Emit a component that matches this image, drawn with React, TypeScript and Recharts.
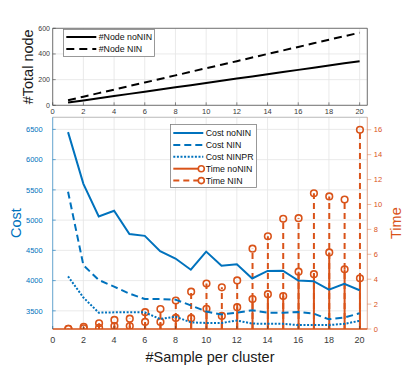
import React from "react";
import {
  LineChart,
  ComposedChart,
  Line,
  Bar,
  XAxis,
  YAxis,
  CartesianGrid,
  ReferenceLine,
  Legend,
} from "recharts";

const samples = [1, 2, 3, 4, 5, 6, 7, 8, 9, 10, 11, 12, 13, 14, 15, 16, 17, 18, 19, 20];

// top panel: total number of nodes
const nodeNoNIN = [21, 38, 55, 72, 89, 106, 123, 140, 157, 174, 191, 208, 225, 242, 259, 276, 293, 310, 327, 344];
const nodeNIN = [39, 67, 95, 122, 150, 178, 205, 233, 261, 289, 316, 344, 372, 400, 427, 455, 483, 511, 538, 566];

// bottom panel: cost (left axis)
const costNoNIN = [6455, 5600, 5060, 5155, 4770, 4740, 4485, 4365, 4180, 4480, 4245, 4270, 4035, 4160, 4165, 4000, 3990, 3850, 3945, 3840];
const costNIN = [5470, 4255, 4010, 3900, 3785, 3695, 3695, 3685, 3590, 3490, 3440, 3470, 3510, 3470, 3470, 3480, 3455, 3360, 3390, 3460];
const costNINPR = [4070, 3720, 3470, 3475, 3475, 3475, 3365, 3405, 3310, 3300, 3300, 3340, 3290, 3285, 3285, 3265, 3265, 3265, 3285, 3335];

// bottom panel: time (right axis)
const timeNoNIN = [0.02, 0.06, 0.1, 0.24, 0.24, 0.57, 0.57, 0.89, 0.87, 1.62, 1.05, 1.75, 2.4, 2.8, 2.65, 4.6, 4.4, 6.15, 4.8, 4.07];
const timeNIN = [0.02, 0.18, 0.46, 0.73, 0.83, 1.35, 1.6, 2.29, 3.0, 3.65, 3.35, 3.9, 6.45, 7.45, 8.85, 8.9, 10.9, 10.65, 10.4, 16.0];

const xTicks = [0, 2, 4, 6, 8, 10, 12, 14, 16, 18, 20];
const nodeTicks = [0, 200, 400, 600];
const costTicks = [3500, 4000, 4500, 5000, 5500, 6000, 6500];
const timeTicks = [0, 2, 4, 6, 8, 10, 12, 14, 16];

const BLUE = "#0072BD";
const ORANGE = "#D95319";
const AX = "#404040";
const GRID = "#e4e4e4";
const FONT = '"Liberation Sans", Arial, Helvetica, sans-serif';

const topData = samples.map((s, i) => ({ s, nodeNoNIN: nodeNoNIN[i], nodeNIN: nodeNIN[i] }));
const bottomData = samples.map((s, i) => ({
  s,
  costNoNIN: costNoNIN[i],
  costNIN: costNIN[i],
  costNINPR: costNINPR[i],
  timeNoNIN: timeNoNIN[i],
  timeNIN: timeNIN[i],
}));

type LegendItem = { key: string; color: string; width: number; dash?: string; marker?: boolean };

const topLegendItems: LegendItem[] = [
  { key: "nodeNoNIN", color: "#000", width: 2 },
  { key: "nodeNIN", color: "#000", width: 2, dash: "8 5" },
];

const bottomLegendItems: LegendItem[] = [
  { key: "costNoNIN", color: BLUE, width: 2 },
  { key: "costNIN", color: BLUE, width: 2, dash: "7 4" },
  { key: "costNINPR", color: BLUE, width: 2, dash: "2 1.6" },
  { key: "timeNoNIN", color: ORANGE, width: 2, marker: true },
  { key: "timeNIN", color: ORANGE, width: 2, dash: "6 4", marker: true },
];

function boxLegend(items: LegendItem[], w: number, h: number, first: number, step: number) {
  return (props: any) => {
    const payload: any[] = props.payload || [];
    return (
      <svg width={w} height={h} style={{ display: "block" }}>
        <rect x={0.5} y={0.5} width={w - 1} height={h - 1} fill="#fff" stroke="#7f7f7f" strokeWidth={0.8} />
        {items.map((it, i) => {
          const y = first + i * step;
          const entry = payload.find((p) => p.dataKey === it.key);
          return (
            <g key={it.key}>
              <line x1={3.3} x2={it.marker ? 29 : 33.3} y1={y} y2={y} stroke={it.color} strokeWidth={it.width} strokeDasharray={it.dash} />
              {it.marker && <circle cx={31.3} cy={y} r={3} fill="none" stroke={it.color} strokeWidth={1.6} />}
              <text x={35.7} y={y} dy="0.35em" fontSize={8.8} fill="#111" fontFamily={FONT}>
                {entry ? entry.value : it.key}
              </text>
            </g>
          );
        })}
      </svg>
    );
  };
}

function stem(dash?: string) {
  return (p: any) => {
    if (p.height == null || p.y == null) return <g />;
    const cx = p.x + p.width / 2;
    return (
      <g>
        <line x1={cx} x2={cx} y1={p.y + p.height} y2={p.y} stroke={ORANGE} strokeWidth={2} strokeDasharray={dash} />
        <circle cx={cx} cy={p.y} r={3.3} fill="none" stroke={ORANGE} strokeWidth={1.6} />
      </g>
    );
  };
}

export default function App() {
  return (
    <div style={{ position: "absolute", left: 0, top: 0, width: 407, height: 370, background: "#fff", fontFamily: FONT }}>
      <div style={{ position: "absolute", left: 0, top: 110 }}>
        <ComposedChart
          width={407}
          height={260}
          data={bottomData}
          margin={{ top: 7.3, right: 0, bottom: 0, left: 0 }}
          barSize={4}
          barGap={-4}
        >
          <CartesianGrid yAxisId="left" stroke={GRID} strokeWidth={0.8} />
          <XAxis
            dataKey="s"
            type="number"
            domain={[0, 20.5]}
            ticks={xTicks}
            height={41}
            axisLine={false}
            tickSize={-3}
            tickMargin={10.8}
            tickLine={{ stroke: AX, strokeWidth: 0.6 }}
            tick={{ fill: "#3a3a3a", fontSize: 9, fontFamily: FONT }}
            label={{ value: "#Sample per cluster", position: "center", dy: 7, fontSize: 14.5, fill: "#1a1a1a", fontFamily: FONT }}
          />
          <YAxis
            yAxisId="left"
            type="number"
            domain={[3200, 6700]}
            ticks={costTicks}
            width={52.7}
            allowDataOverflow
            axisLine={{ stroke: BLUE, strokeWidth: 0.8, strokeOpacity: 0.7 }}
            tickSize={-3}
            tickMargin={13}
            tickLine={{ stroke: BLUE, strokeWidth: 0.6 }}
            tick={{ fill: BLUE, fontSize: 7.5, fontFamily: FONT }}
            label={{ value: "Cost", angle: -90, position: "center", dx: -10.3, fontSize: 14.5, fill: BLUE, fontFamily: FONT }}
          />
          <YAxis
            yAxisId="right"
            orientation="right"
            type="number"
            domain={[0, 17]}
            ticks={timeTicks}
            width={39.7}
            allowDataOverflow
            axisLine={{ stroke: ORANGE, strokeWidth: 0.8, strokeOpacity: 0.55 }}
            tickSize={4}
            tickMargin={2.5}
            tickLine={{ stroke: ORANGE, strokeWidth: 0.6, strokeOpacity: 0.7 }}
            tick={{ fill: ORANGE, fontSize: 7.5, fontFamily: FONT }}
            label={{ value: "Time", angle: -90, position: "center", dx: 8.6, fontSize: 14.5, fill: ORANGE, fontFamily: FONT }}
          />
          <ReferenceLine yAxisId="left" y={6700} stroke="#b5b5b5" strokeWidth={0.8} />
          <Line yAxisId="left" dataKey="costNoNIN" name="Cost noNIN" stroke={BLUE} strokeWidth={2} dot={false} activeDot={false} isAnimationActive={false} />
          <Line yAxisId="left" dataKey="costNIN" name="Cost NIN" stroke={BLUE} strokeWidth={2} strokeDasharray="7 4" dot={false} activeDot={false} isAnimationActive={false} />
          <Line yAxisId="left" dataKey="costNINPR" name="Cost NINPR" stroke={BLUE} strokeWidth={2} strokeDasharray="2 1.6" dot={false} activeDot={false} isAnimationActive={false} />
          <Bar yAxisId="right" dataKey="timeNIN" name="Time NIN" fill={ORANGE} shape={stem("6 4")} isAnimationActive={false} />
          <Bar yAxisId="right" dataKey="timeNoNIN" name="Time noNIN" fill={ORANGE} shape={stem()} isAnimationActive={false} />
          <ReferenceLine yAxisId="right" y={0} stroke={ORANGE} strokeWidth={1.5} />
          <Legend
            layout="horizontal"
            verticalAlign="middle"
            align="center"
            wrapperStyle={{ left: 170, top: 14, width: 87, height: 64 }}
            content={boxLegend(bottomLegendItems, 87, 64, 9, 11.9)}
          />
        </ComposedChart>
      </div>
      <div style={{ position: "absolute", left: 0, top: 0 }}>
        <LineChart width={407} height={120} data={topData} margin={{ top: 28.3, right: 39.7, bottom: 0, left: 0 }}>
          <CartesianGrid stroke={GRID} strokeWidth={0.8} />
          <XAxis
            dataKey="s"
            type="number"
            domain={[0, 20.5]}
            ticks={xTicks}
            height={14.7}
            axisLine={{ stroke: AX, strokeWidth: 0.7 }}
            tickSize={-3}
            tickMargin={6.7}
            tickLine={{ stroke: AX, strokeWidth: 0.6 }}
            tick={{ fill: "#3a3a3a", fontSize: 7.5, fontFamily: FONT }}
          />
          <YAxis
            type="number"
            domain={[0, 600]}
            ticks={nodeTicks}
            width={52.7}
            axisLine={{ stroke: AX, strokeWidth: 0.7 }}
            tickSize={-3}
            tickMargin={5.7}
            tickLine={{ stroke: AX, strokeWidth: 0.6 }}
            tick={{ fill: "#3a3a3a", fontSize: 7, fontFamily: FONT }}
            label={{ value: "#Total node", angle: -90, position: "center", dx: 2, fontSize: 14.5, fill: "#1a1a1a", fontFamily: FONT }}
          />
          <ReferenceLine y={600} stroke={AX} strokeWidth={0.7} />
          <ReferenceLine x={20.5} stroke={AX} strokeWidth={0.7} />
          <Line dataKey="nodeNoNIN" name="#Node noNIN" stroke="#000" strokeWidth={2} dot={false} activeDot={false} isAnimationActive={false} />
          <Line dataKey="nodeNIN" name="#Node NIN" stroke="#000" strokeWidth={2} strokeDasharray="8 5" dot={false} activeDot={false} isAnimationActive={false} />
          <Legend
            layout="horizontal"
            verticalAlign="middle"
            align="center"
            wrapperStyle={{ left: 63.3, top: 29.3, width: 92, height: 28 }}
            content={boxLegend(topLegendItems, 92, 28, 8, 12)}
          />
        </LineChart>
      </div>
    </div>
  );
}
